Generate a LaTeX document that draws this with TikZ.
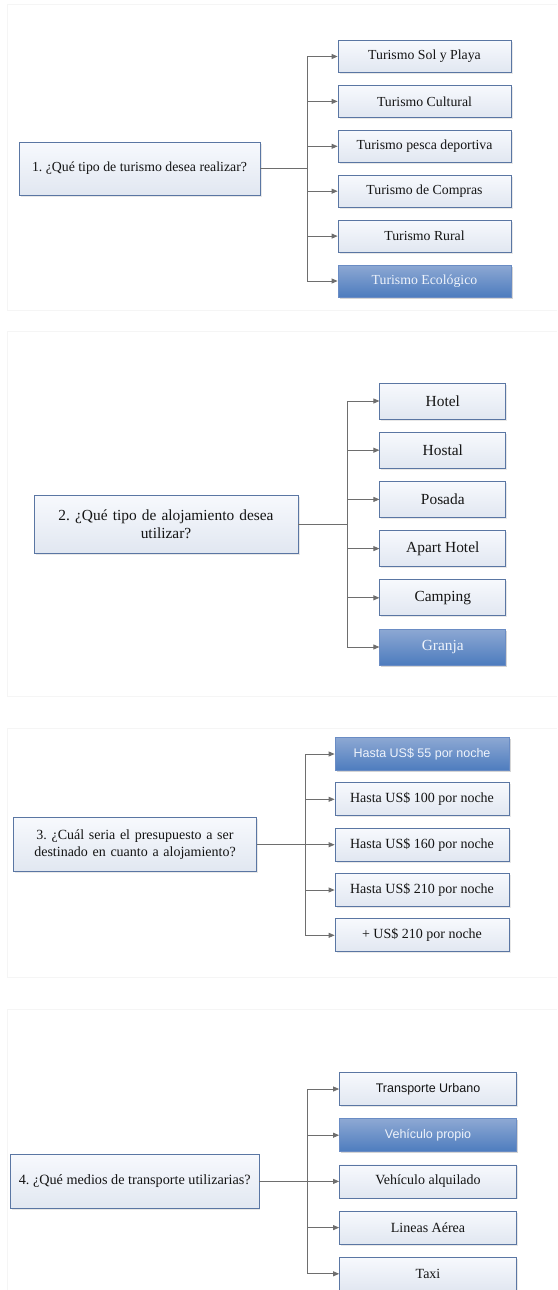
\documentclass[tikz,border=0pt]{standalone}
\usepackage{fontspec}
\setmainfont{Liberation Serif}
\newfontfamily\arialf{Liberation Sans}
\usetikzlibrary{arrows.meta,shadows}
\frenchspacing
\definecolor{boxtop}{HTML}{F7F9FD}
\definecolor{boxbot}{HTML}{E1E7F1}
\definecolor{boxline}{HTML}{5A76A3}
\definecolor{hitop}{HTML}{8DA8D3}
\definecolor{hibot}{HTML}{4D7CBE}
\definecolor{hiline}{HTML}{6A8CC4}
\definecolor{hitext}{HTML}{EEF3FB}
\definecolor{conncol}{HTML}{6E6E6E}
\definecolor{txt}{HTML}{141414}
\definecolor{panel}{HTML}{F5F5F5}
\tikzset{
  base/.style={draw=boxline, line width=0.8pt, top color=boxtop, bottom color=boxbot,
    text=txt, align=center, inner sep=2pt,
    drop shadow={shadow xshift=1.5pt, shadow yshift=-1.5pt, opacity=0.18}},
  hibox/.style={base, draw=hiline, top color=hitop, bottom color=hibot, text=hitext},
  fa/.style={font=\fontsize{13.8}{16}\selectfont},
  fb/.style={font=\fontsize{15.4}{18}\selectfont},
  fc/.style={font=\fontsize{14}{16.5}\selectfont},
  fd/.style={font=\fontsize{14.2}{17}\selectfont},
  fs/.style={font=\arialf\fontsize{12.5}{15}\selectfont},
  oa/.style={base, minimum width=173pt, minimum height=32pt},
  ob/.style={base, minimum width=126pt, minimum height=36pt},
  oc/.style={base, minimum width=174pt, minimum height=33pt},
  od/.style={base, minimum width=177pt, minimum height=33pt},
  conn/.style={draw=conncol, line width=0.8pt},
  arr/.style={conn, -{Triangle[length=6pt,width=5pt]}},
  panelline/.style={draw=panel, line width=0.6pt}
}
\begin{document}
\begin{tikzpicture}[x=1pt,y=-1pt]
\useasboundingbox (0,0) rectangle (557,1290);
\begin{scope}
\clip (0,0) rectangle (557,1290);
% faint panels
\draw[panelline] (7,4) rectangle (600,310);
\draw[panelline] (7,331) rectangle (600,696);
\draw[panelline] (7,728) rectangle (600,977);
\draw[panelline] (7,1009) rectangle (600,1300);

% ---------- Section 1 ----------
\node[base, fa, minimum width=241pt, minimum height=53pt] (q1) at (139.5,168.5) {1. ¿Qué tipo de turismo desea realizar?};
\node[oa, fa] (a1) at (424.5,56.5) {Turismo Sol y Playa};
\node[oa, fa] (a2) at (424.5,101.4) {Turismo Cultural};
\node[oa, fa] (a3) at (424.5,146.3) {Turismo pesca deportiva};
\node[oa, fa] (a4) at (424.5,191.2) {Turismo de Compras};
\node[oa, fa] (a5) at (424.5,236.1) {Turismo Rural};
\node[oa, fa, hibox] (a6) at (424.5,281) {Turismo Ecológico};
\coordinate (j1) at (307,168.5);
\draw[conn] (q1.east) -- (j1);
\draw[conn] (j1 |- a1.west) -- (j1 |- a6.west);
\foreach \n in {a1,a2,a3,a4,a5,a6} \draw[arr] (j1 |- \n.west) -- (\n.west);

% ---------- Section 2 ----------
\node[base, fb, minimum width=264pt, minimum height=58pt, text width=250pt] (q2) at (166,524) {2. ¿Qué tipo de alojamiento desea\\utilizar?};
\node[ob, fb] (b1) at (442.8,401) {Hotel};
\node[ob, fb] (b2) at (442.8,450.2) {Hostal};
\node[ob, fb] (b3) at (442.8,499.4) {Posada};
\node[ob, fb] (b4) at (442.8,548.6) {Apart Hotel};
\node[ob, fb] (b5) at (442.8,597.8) {Camping};
\node[ob, fb, hibox] (b6) at (442.8,647) {Granja};
\coordinate (j2) at (347,524);
\draw[conn] (q2.east) -- (j2);
\draw[conn] (j2 |- b1.west) -- (j2 |- b6.west);
\foreach \n in {b1,b2,b3,b4,b5,b6} \draw[arr] (j2 |- \n.west) -- (\n.west);

% ---------- Section 3 ----------
\node[base, fc, minimum width=243.4pt, minimum height=54pt, text width=235pt] (q3) at (135,844.7) {3. ¿Cuál seria el presupuesto a ser\\destinado en cuanto a alojamiento?};
\node[oc, fs, hibox] (c1) at (422,754) {Hasta US\$ 55 por noche};
\node[oc, fc] (c2) at (422,799.3) {Hasta US\$ 100 por noche};
\node[oc, fc] (c3) at (422,844.7) {Hasta US\$ 160 por noche};
\node[oc, fc] (c4) at (422,890) {Hasta US\$ 210 por noche};
\node[oc, fc] (c5) at (422,935.3) {+ US\$ 210 por noche};
\coordinate (j3) at (305,844.7);
\draw[conn] (q3.east) -- (j3);
\draw[conn] (j3 |- c1.west) -- (j3 |- c5.west);
\foreach \n in {c1,c2,c3,c4,c5} \draw[arr] (j3 |- \n.west) -- (\n.west);

% ---------- Section 4 ----------
\node[base, fd, minimum width=248.3pt, minimum height=54.4pt] (q4) at (134.8,1181.5) {4. ¿Qué medios de transporte utilizarias?};
\node[od, fs] (d1) at (428,1089) {Transporte Urbano};
\node[od, fs, hibox] (d2) at (428,1135.2) {Vehículo propio};
\node[od, fc] (d3) at (428,1181.4) {Vehículo alquilado};
\node[od, fc] (d4) at (428,1227.6) {Lineas Aérea};
\node[od, fc] (d5) at (428,1273.8) {Taxi};
\coordinate (j4) at (307,1181.5);
\draw[conn] (q4.east) -- (j4);
\draw[conn] (j4 |- d1.west) -- (j4 |- d5.west);
\foreach \n in {d1,d2,d3,d4,d5} \draw[arr] (j4 |- \n.west) -- (\n.west);
\end{scope}
\end{tikzpicture}
\end{document}
